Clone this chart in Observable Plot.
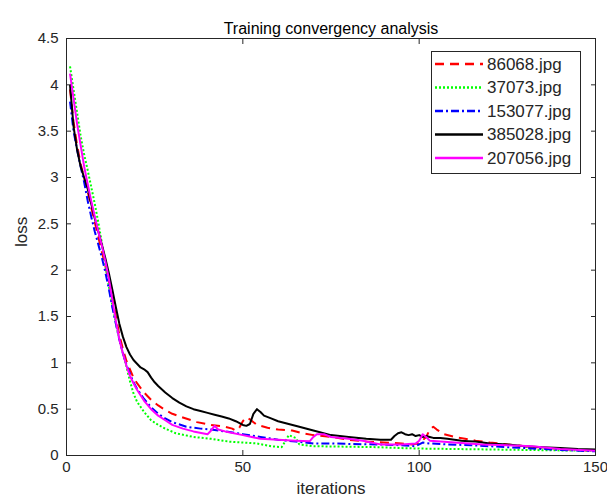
<!DOCTYPE html>
<html>
<head>
<meta charset="utf-8">
<script src="https://cdn.jsdelivr.net/npm/d3@7"></script>
<script src="https://cdn.jsdelivr.net/npm/@observablehq/plot@0.6"></script>
<style>
  html, body { margin: 0; padding: 0; background: #fff; }
  #wrap { position: relative; width: 607px; height: 502px; }
</style>
</head>
<body>
<div id="wrap"></div>
<script>
const titleText = "Training convergency analysis";
const xLabel = "iterations";
const yLabel = "loss";
const xTicks = [0, 50, 100, 150];
const yTicks = [0, 0.5, 1, 1.5, 2, 2.5, 3, 3.5, 4, 4.5];

const names = ["86068.jpg", "37073.jpg", "153077.jpg", "385028.jpg", "207056.jpg"];
const colors = ["#ff0000", "#00ff00", "#0000ff", "#000000", "#ff00ff"];
const dashes = ["9,6", "2,2", "8,3,2,3", null, null];

const iters86068 = [1,2,3,4,5,6,7,8,9,10,11,12,13,14,15,16,17,18,19,20,22,24,26,28,30,33,37,41,45,47,48,49,50,51,52,54,57,60,64,67,70,75,80,85,90,95,98,100,102,103,104,105,107,110,113,116,120,125,130,140,150];
const loss86068  = [3.95,3.6,3.35,3.15,3.0,2.85,2.68,2.52,2.36,2.2,2.05,1.88,1.7,1.5,1.3,1.15,1.02,0.93,0.84,0.78,0.68,0.6,0.54,0.49,0.45,0.41,0.36,0.33,0.31,0.29,0.27,0.3,0.37,0.41,0.39,0.33,0.3,0.28,0.27,0.24,0.22,0.2,0.17,0.15,0.14,0.13,0.12,0.13,0.2,0.28,0.31,0.28,0.23,0.2,0.18,0.16,0.14,0.12,0.1,0.07,0.05];

const iters37073 = [1,2,3,4,5,6,7,8,9,10,11,12,13,14,15,16,17,18,19,20,22,24,26,28,31,36,41,46,50,54,58,61,62,63,65,66,70,80,88,95,100,110,120,130,140,150];
const loss37073  = [4.2,3.95,3.7,3.45,3.25,3.08,2.9,2.72,2.52,2.3,2.06,1.83,1.62,1.43,1.25,1.1,0.96,0.8,0.67,0.58,0.47,0.38,0.33,0.29,0.24,0.2,0.18,0.15,0.14,0.13,0.1,0.09,0.15,0.22,0.19,0.12,0.1,0.095,0.09,0.08,0.075,0.07,0.065,0.06,0.055,0.05];

const iters153077 = [1,2,3,4,5,6,7,8,9,10,11,12,13,14,15,16,17,18,19,20,22,24,26,28,30,34,38,41,45,50,55,60,65,70,75,80,88,95,99,101,103,108,115,120,130,140,150];
const loss153077  = [3.82,3.5,3.3,3.12,2.95,2.75,2.58,2.42,2.28,2.14,1.98,1.8,1.6,1.42,1.25,1.1,0.98,0.88,0.79,0.72,0.61,0.52,0.45,0.4,0.36,0.31,0.29,0.28,0.26,0.23,0.2,0.17,0.15,0.13,0.13,0.125,0.12,0.11,0.1,0.14,0.13,0.12,0.11,0.1,0.08,0.06,0.045];

const iters385028 = [1,2,3,4,5,6,7,8,9,10,11,12,13,14,15,16,17,18,19,20,21,22,23,24,25,26,28,30,32,34,36,38,40,42,44,46,48,50,51,52,53,54,55,56,58,60,63,66,70,75,80,85,89,92,93,94,95,96,97,98,99,100,101,102,103,104,106,108,110,112,114,116,118,120,125,130,135,140,145,150];
const loss385028  = [4.0,3.55,3.3,3.12,3.0,2.88,2.72,2.56,2.42,2.28,2.13,1.97,1.79,1.6,1.42,1.28,1.17,1.09,1.03,0.99,0.95,0.93,0.9,0.84,0.79,0.75,0.68,0.62,0.57,0.53,0.5,0.48,0.46,0.44,0.42,0.4,0.37,0.33,0.32,0.34,0.45,0.5,0.47,0.43,0.4,0.37,0.34,0.31,0.27,0.22,0.2,0.18,0.17,0.17,0.21,0.24,0.25,0.23,0.22,0.23,0.21,0.22,0.2,0.21,0.2,0.19,0.19,0.18,0.17,0.16,0.155,0.15,0.14,0.13,0.12,0.1,0.09,0.08,0.07,0.065];

const iters207056 = [1,2,3,4,5,6,7,8,9,10,11,12,13,14,15,16,17,18,19,20,22,24,26,28,30,33,36,40,41,42,43,45,50,55,60,65,69,70,71,73,75,80,84,89,95,99,100,101,102,103,106,110,118,125,132,140,150];
const loss207056  = [4.12,3.85,3.58,3.35,3.12,2.93,2.75,2.58,2.42,2.27,2.1,1.91,1.68,1.45,1.25,1.1,0.97,0.86,0.78,0.71,0.59,0.5,0.43,0.38,0.33,0.29,0.26,0.23,0.27,0.32,0.28,0.26,0.22,0.18,0.17,0.16,0.155,0.2,0.23,0.23,0.2,0.18,0.16,0.12,0.12,0.13,0.16,0.23,0.2,0.16,0.15,0.14,0.12,0.11,0.1,0.07,0.05];

const seriesIters = [iters86068, iters37073, iters153077, iters385028, iters207056];
const seriesLoss = [loss86068, loss37073, loss153077, loss385028, loss207056];

const font = "'Liberation Sans', Arial, Helvetica, sans-serif";
const ink = "#262626";

const lineMarks = names.map((name, i) => {
  const rows = seriesIters[i].map((it, j) => ({iteration: it, loss: seriesLoss[i][j]}));
  return Plot.line(rows, {
    x: "iteration", y: "loss",
    stroke: colors[i], strokeWidth: 2,
    strokeDasharray: dashes[i] || undefined,
    strokeLinejoin: "round", strokeLinecap: "butt"
  });
});

const fmt = d => String(d);

const chart = Plot.plot({
  width: 607, height: 502,
  marginLeft: 66, marginRight: 12, marginTop: 38, marginBottom: 47,
  style: {fontFamily: font, fontSize: "15px", color: ink, background: "#fff"},
  x: {domain: [0, 150]},
  y: {domain: [0, 4.5]},
  marks: [
    ...lineMarks,
    Plot.frame({stroke: ink, strokeWidth: 1}),
    Plot.axisX({anchor: "bottom", ticks: xTicks, tickSize: -5, tickPadding: 11, tickFormat: fmt, label: null, fontSize: 15, color: ink}),
    Plot.axisX({anchor: "top", ticks: xTicks, tickSize: -5, tickFormat: () => "", label: null, color: ink}),
    Plot.axisY({anchor: "left", ticks: yTicks, tickSize: -5, tickPadding: 13, tickFormat: fmt, label: null, fontSize: 15, color: ink}),
    Plot.axisY({anchor: "right", ticks: yTicks, tickSize: -5, tickFormat: () => "", label: null, color: ink}),
    Plot.text([titleText], {frameAnchor: "top", dy: -16, text: d => d, fontSize: 16, fill: "#000"}),
    Plot.text([xLabel], {frameAnchor: "bottom", dy: 38, text: d => d, fontSize: 17, fill: ink}),
    Plot.text([yLabel], {frameAnchor: "left", dx: -45, rotate: -90, text: d => d, fontSize: 17, fill: ink})
  ]
});
document.getElementById("wrap").appendChild(chart);

// Legend
const lgW = 149, rowH = 23.5, lgH = 122;
const ns = "http://www.w3.org/2000/svg";
const lg = document.createElementNS(ns, "svg");
lg.setAttribute("width", lgW + 1);
lg.setAttribute("height", lgH + 1);
lg.style.position = "absolute";
lg.style.left = "431px";
lg.style.top = "51px";
const box = document.createElementNS(ns, "rect");
box.setAttribute("x", 0.5); box.setAttribute("y", 0.5);
box.setAttribute("width", lgW); box.setAttribute("height", lgH);
box.setAttribute("fill", "#fff"); box.setAttribute("stroke", ink);
lg.appendChild(box);
names.forEach((name, i) => {
  const cy = 13 + i * rowH;
  const ln = document.createElementNS(ns, "line");
  ln.setAttribute("x1", 4); ln.setAttribute("x2", 52);
  ln.setAttribute("y1", cy); ln.setAttribute("y2", cy);
  ln.setAttribute("stroke", colors[i]); ln.setAttribute("stroke-width", 2.5);
  if (dashes[i]) ln.setAttribute("stroke-dasharray", dashes[i]);
  lg.appendChild(ln);
  const tx = document.createElementNS(ns, "text");
  tx.setAttribute("x", 56); tx.setAttribute("y", cy);
  tx.setAttribute("dy", "0.35em");
  tx.setAttribute("font-family", font);
  tx.setAttribute("font-size", 17);
  tx.setAttribute("fill", ink);
  tx.textContent = name;
  lg.appendChild(tx);
});
document.getElementById("wrap").appendChild(lg);
</script>
</body>
</html>
